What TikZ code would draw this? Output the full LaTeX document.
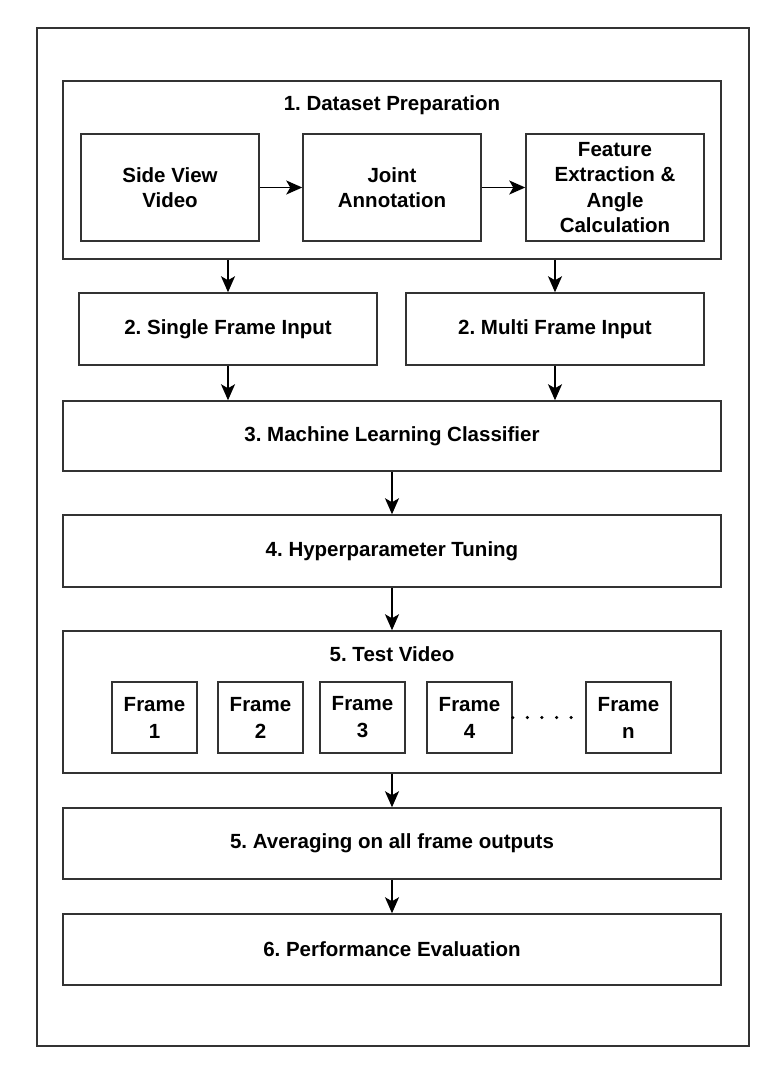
\documentclass[tikz,border=0pt]{standalone}
\usepackage{fontspec}
\setmainfont{Liberation Sans}
\usetikzlibrary{arrows.meta}
\definecolor{linecol}{HTML}{333333}
\frenchspacing
\begin{document}
\begin{tikzpicture}[x=1pt,y=-1pt,
  every node/.style={font=\bfseries\fontsize{20.5}{25.5}\selectfont, align=center, inner sep=0pt, text=black},
  box/.style={draw=linecol, line width=1.5pt, fill=white},
  wide/.style={box, minimum width=658pt},
  inner/.style={box, minimum width=178pt, minimum height=107pt},
  half/.style={box, minimum width=298pt, minimum height=72pt},
  framebox/.style={box, minimum width=85pt, minimum height=71pt, font=\bfseries\fontsize{20.5}{27}\selectfont},
  conn/.style={draw=black, line width=1.5pt, -{Stealth[length=16pt,width=14pt,inset=4pt]}},
  dots/.style={draw=black, line width=3.5pt, line cap=round, dash pattern=on 0pt off 14.6pt},
]
\useasboundingbox (0,0) rectangle (772,1076);
\node[box, minimum width=712pt, minimum height=1018pt] (outer) at (393,537) {};

% 1. Dataset preparation
\node[wide, minimum height=178pt] (dataset) at (392,170) {};
\node (dstitle) at (392,105) {1. Dataset Preparation};
\node[inner] (sv) at (170,187.5) {Side View\\Video};
\node[inner] (ja) at (392,187.5) {Joint\\Annotation};
\node[inner] (fe) at (615,187.5) {Feature\\Extraction \&\\Angle\\Calculation};
\draw[conn] (sv.east) -- (ja.west);
\draw[conn] (ja.east) -- (fe.west);

% 2. Inputs
\node[half] (single) at (228,329) {2. Single Frame Input};
\node[half] (multi) at (555,329) {2. Multi Frame Input};
\draw[conn] (single.north |- dataset.south) -- (single.north);
\draw[conn] (multi.north |- dataset.south) -- (multi.north);

% 3. Classifier
\node[wide, minimum height=70pt] (clf) at (392,436) {3. Machine Learning Classifier};
\draw[conn] (single.south) -- (single.south |- clf.north);
\draw[conn] (multi.south) -- (multi.south |- clf.north);

% 4. Hyperparameter tuning
\node[wide, minimum height=72pt] (hyp) at (392,551) {4. Hyperparameter Tuning};
\draw[conn] (clf.south) -- (hyp.north);

% 5. Test video
\node[wide, minimum height=142pt] (test) at (392,702) {};
\node (tvtitle) at (392,654) {5. Test Video};
\node[framebox] (f1) at (154.5,717.5) {Frame\\1};
\node[framebox] (f2) at (260.5,717.5) {Frame\\2};
\node[framebox] (f3) at (362.5,717.5) {Frame\\3};
\node[framebox] (f4) at (469.5,717.5) {Frame\\4};
\node[framebox] (fn) at (628.5,717.5) {Frame\\n};
\draw[dots] (f4.east) -- (fn.west);
\draw[conn] (hyp.south) -- (test.north);

% 5. Averaging
\node[wide, minimum height=71pt] (avg) at (392,843.5) {5. Averaging on all frame outputs};
\draw[conn] (test.south) -- (avg.north);

% 6. Performance evaluation
\node[wide, minimum height=71pt] (perf) at (392,949.5) {6. Performance Evaluation};
\draw[conn] (avg.south) -- (perf.north);
\end{tikzpicture}
\end{document}
